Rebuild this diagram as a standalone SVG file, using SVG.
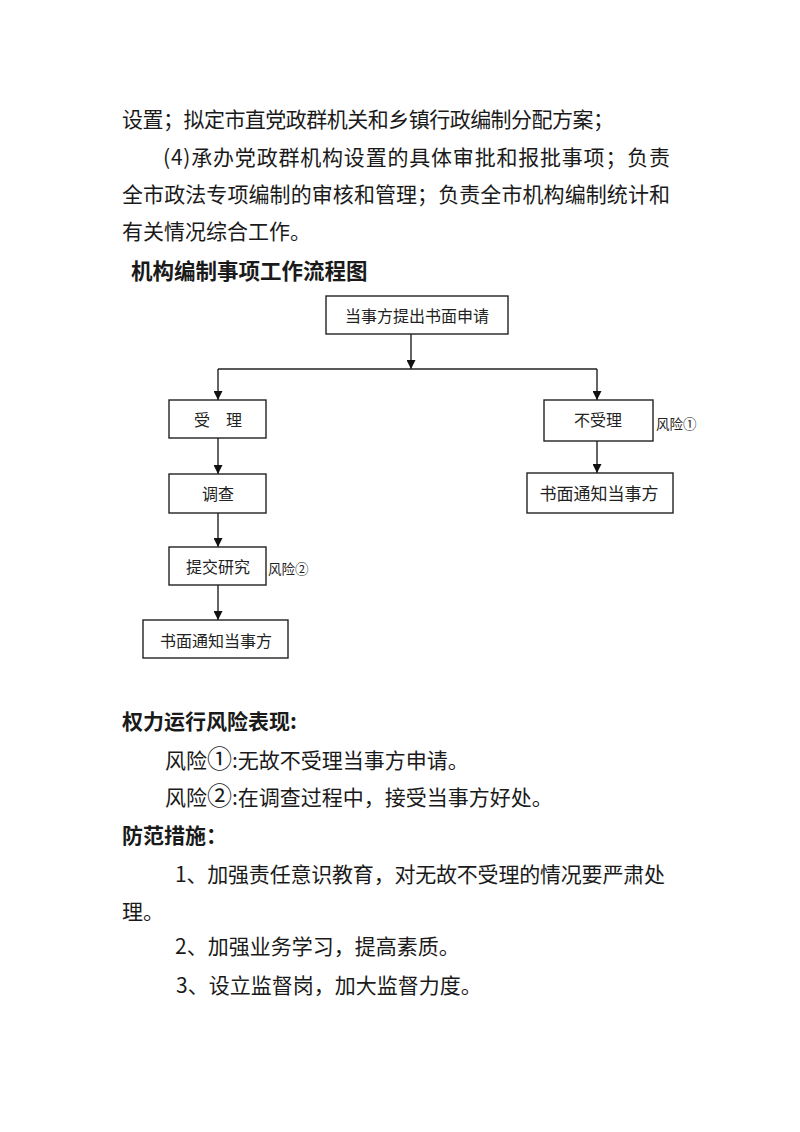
<svg xmlns="http://www.w3.org/2000/svg" width="800" height="1132" viewBox="0 0 800 1132">
<style>
.body{font-family:"Noto Sans CJK SC","Noto Sans",sans-serif;font-size:21px;fill:#1a1a1a}
.bold{font-weight:bold}
.big{font-size:25px}
.box{fill:#fff;stroke:#222;stroke-width:1.4}
.lbl{font-family:"Noto Sans CJK SC","Noto Sans",sans-serif;font-size:16px;fill:#222;text-anchor:middle;dominant-baseline:central}
.risk{font-family:"Noto Sans CJK SC","Noto Sans",sans-serif;font-size:13.5px;fill:#222;dominant-baseline:central}
.conn{fill:none;stroke:#222;stroke-width:1.4}
</style>
<defs>
<marker id="arr" viewBox="0 0 10 10" refX="10" refY="5" markerWidth="9" markerHeight="9" markerUnits="userSpaceOnUse" orient="auto">
<path d="M0,0 L10,5 L0,10 z" fill="#111"/>
</marker>
</defs>
<rect width="800" height="1132" fill="#fff"/>

<g id="intro">
<text class="body" x="122" y="127" textLength="492" lengthAdjust="spacing">设置；拟定市直党政群机关和乡镇行政编制分配方案；</text>
<text class="body" x="163" y="165" textLength="507" lengthAdjust="spacing">(4)承办党政群机构设置的具体审批和报批事项；负责</text>
<text class="body" x="122" y="202" textLength="548" lengthAdjust="spacing">全市政法专项编制的审核和管理；负责全市机构编制统计和</text>
<text class="body" x="122" y="239">有关情况综合工作。</text>
</g>

<text id="title" class="body bold" x="131" y="279" style="font-size:21.5px">机构编制事项工作流程图</text>

<g id="connectors">
<line class="conn" x1="411" y1="334" x2="411" y2="369" marker-end="url(#arr)"/>
<line class="conn" x1="218" y1="369" x2="597" y2="369"/>
<line class="conn" x1="218" y1="369" x2="218" y2="400" marker-end="url(#arr)"/>
<line class="conn" x1="597" y1="369" x2="597" y2="400" marker-end="url(#arr)"/>
<line class="conn" x1="218" y1="438" x2="218" y2="474" marker-end="url(#arr)"/>
<line class="conn" x1="218" y1="513" x2="218" y2="547" marker-end="url(#arr)"/>
<line class="conn" x1="218" y1="585" x2="218" y2="620" marker-end="url(#arr)"/>
<line class="conn" x1="597" y1="441" x2="597" y2="473" marker-end="url(#arr)"/>
</g>

<g id="n-apply">
<rect class="box" x="326" y="296" width="182" height="38"/>
<text class="lbl" x="417" y="315">当事方提出书面申请</text>
</g>
<g id="n-accept">
<rect class="box" x="169" y="400" width="97" height="38"/>
<text class="lbl" x="218" y="419">受　理</text>
</g>
<g id="n-reject">
<rect class="box" x="544" y="400" width="109" height="41"/>
<text class="lbl" x="598" y="419">不受理</text>
<text class="risk" x="656" y="423">风险①</text>
</g>
<g id="n-notify-right">
<rect class="box" x="527" y="473" width="146" height="40"/>
<text class="lbl" x="599" y="492" style="font-size:17px">书面通知当事方</text>
</g>
<g id="n-investigate">
<rect class="box" x="169" y="474" width="97" height="39"/>
<text class="lbl" x="218" y="493">调查</text>
</g>
<g id="n-submit">
<rect class="box" x="169" y="547" width="97" height="38"/>
<text class="lbl" x="218" y="566">提交研究</text>
<text class="risk" x="268" y="568">风险②</text>
</g>
<g id="n-notify-left">
<rect class="box" x="143" y="620" width="145" height="38"/>
<text class="lbl" x="216" y="640">书面通知当事方</text>
</g>

<g id="risks">
<text class="body bold" x="122" y="729">权力运行风险表现:</text>
<text class="body" x="165" y="768">风险<tspan class="big">①</tspan>:无故不受理当事方申请。</text>
<text class="body" x="165" y="805">风险<tspan class="big">②</tspan>:在调查过程中，接受当事方好处。</text>
<text class="body bold" x="122" y="843">防范措施：</text>
<text class="body" x="175" y="882" textLength="490" lengthAdjust="spacing">1、加强责任意识教育，对无故不受理的情况要严肃处</text>
<text class="body" x="122" y="919">理。</text>
<text class="body" x="175" y="954">2、加强业务学习，提高素质。</text>
<text class="body" x="176" y="993">3、设立监督岗，加大监督力度。</text>
</g>
</svg>
